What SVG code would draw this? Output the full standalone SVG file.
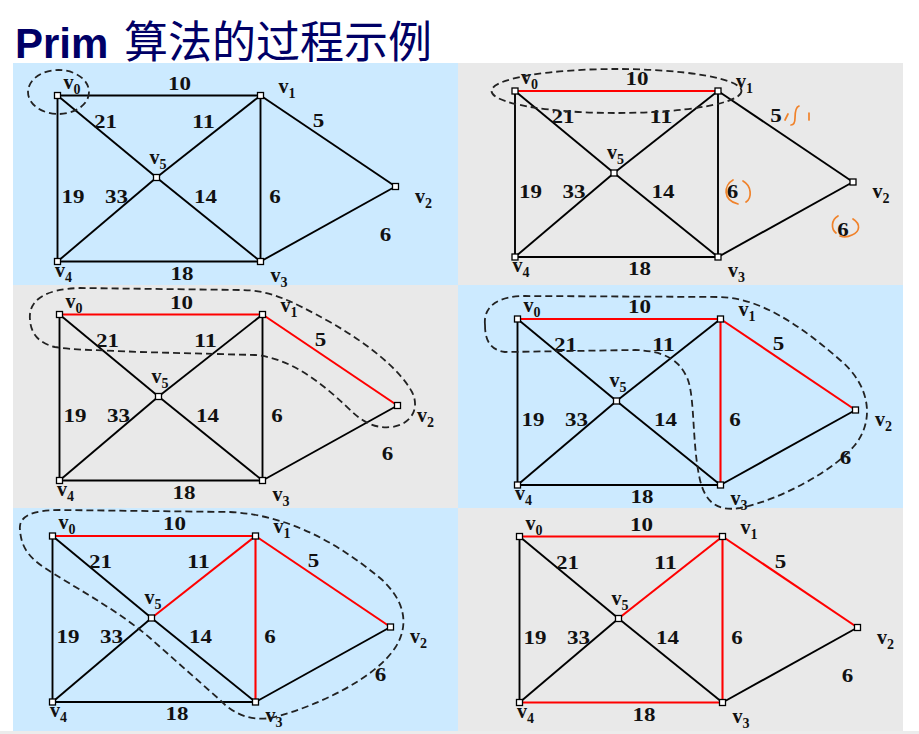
<svg xmlns="http://www.w3.org/2000/svg" width="919" height="734" viewBox="0 0 919 734">
<style>
.bb{fill:#cceaff}
.bg{fill:#e9e9e9}
.e{stroke:#000;stroke-width:1.9;fill:none}
.r{stroke:#ff0000;stroke-width:2.1;fill:none}
.n rect{fill:#fff;stroke:#000;stroke-width:1.3}
.w{font-family:"Liberation Serif","Times New Roman",serif;font-weight:bold;font-size:19px;text-anchor:middle;fill:#111}
.vl{font-family:"Liberation Serif","Times New Roman",serif;font-weight:bold;font-size:20px;fill:#111}
.vl tspan{font-size:14px}
.d{stroke:#222;stroke-width:1.8;stroke-dasharray:7 4;fill:none}
.o{stroke:#f0822a;stroke-width:1.7;fill:none;stroke-linecap:round}
.t{fill:#000066}
</style>
<rect width="919" height="734" fill="#fff"/>
<g id="backgrounds">
<rect class="bb" x="13" y="63" width="445" height="222"/>
<rect class="bg" x="458" y="63" width="445" height="222"/>
<rect class="bg" x="13" y="285" width="445" height="223"/>
<rect class="bb" x="458" y="285" width="445" height="223"/>
<rect class="bb" x="13" y="508" width="445" height="223"/>
<rect class="bg" x="458" y="508" width="445" height="223"/>
<rect x="0" y="731" width="919" height="3" fill="#ececec"/>
</g>
<text id="title" class="t" y="58"><tspan x="15" font-family="'Liberation Sans',Arial,sans-serif" font-weight="bold" font-size="42">Prim</tspan><tspan x="124" font-family="'Noto Sans CJK SC',sans-serif" font-size="44">算法的过程示例</tspan></text>

<!-- Panel 1 -->
<g id="panel1" transform="translate(57.5,95.5)">
<g id="p1-edges">
<path class="e" d="M0,0L203,0"/><path class="e" d="M0,0L0,166"/><path class="e" d="M0,0L99,82"/><path class="e" d="M203,0L99,82"/><path class="e" d="M203,0L338,91"/><path class="e" d="M203,0L203,166"/><path class="e" d="M99,82L0,166"/><path class="e" d="M99,82L203,166"/><path class="e" d="M338,91L203,166"/><path class="e" d="M0,166L203,166"/>
</g>
<g id="p1-weights">
<text class="w" x="122" y="-6" textLength="23" lengthAdjust="spacingAndGlyphs">10</text>
<text class="w" x="48" y="32" textLength="23" lengthAdjust="spacingAndGlyphs">21</text>
<text class="w" x="146" y="32" textLength="23" lengthAdjust="spacingAndGlyphs">11</text>
<text class="w" x="261" y="31" textLength="11.5" lengthAdjust="spacingAndGlyphs">5</text>
<text class="w" x="15.5" y="107" textLength="23" lengthAdjust="spacingAndGlyphs">19</text>
<text class="w" x="59" y="107" textLength="23" lengthAdjust="spacingAndGlyphs">33</text>
<text class="w" x="148" y="107" textLength="23" lengthAdjust="spacingAndGlyphs">14</text>
<text class="w" x="217.5" y="107" textLength="11.5" lengthAdjust="spacingAndGlyphs">6</text>
<text class="w" x="328" y="145" textLength="11.5" lengthAdjust="spacingAndGlyphs">6</text>
<text class="w" x="124.5" y="184" textLength="23" lengthAdjust="spacingAndGlyphs">18</text>
</g>
<g id="p1-v0" class="n"><rect x="-3" y="-3" width="6" height="6"/><text class="vl" x="6" y="-7">v<tspan dy="5">0</tspan></text></g>
<g id="p1-v1" class="n"><rect x="200" y="-3" width="6" height="6"/><text class="vl" x="221" y="-3">v<tspan dy="5">1</tspan></text></g>
<g id="p1-v5" class="n"><rect x="96" y="79" width="6" height="6"/><text class="vl" x="92" y="68">v<tspan dy="5">5</tspan></text></g>
<g id="p1-v2" class="n"><rect x="335" y="88" width="6" height="6"/><text class="vl" x="357.5" y="107">v<tspan dy="5">2</tspan></text></g>
<g id="p1-v4" class="n"><rect x="-3" y="163" width="6" height="6"/><text class="vl" x="-2.5" y="181">v<tspan dy="5">4</tspan></text></g>
<g id="p1-v3" class="n"><rect x="200" y="163" width="6" height="6"/><text class="vl" x="213" y="186">v<tspan dy="5">3</tspan></text></g>
</g>

<!-- Panel 2 -->
<g id="panel2" transform="translate(515,91)">
<g id="p2-edges">
<path class="r" d="M0,0L203,0"/><path class="e" d="M0,0L0,166"/><path class="e" d="M0,0L99,82"/><path class="e" d="M203,0L99,82"/><path class="e" d="M203,0L338,91"/><path class="e" d="M203,0L203,166"/><path class="e" d="M99,82L0,166"/><path class="e" d="M99,82L203,166"/><path class="e" d="M338,91L203,166"/><path class="e" d="M0,166L203,166"/>
</g>
<g id="p2-weights">
<text class="w" x="122" y="-6" textLength="23" lengthAdjust="spacingAndGlyphs">10</text>
<text class="w" x="48" y="32" textLength="23" lengthAdjust="spacingAndGlyphs">21</text>
<text class="w" x="146" y="32" textLength="23" lengthAdjust="spacingAndGlyphs">11</text>
<text class="w" x="261" y="31" textLength="11.5" lengthAdjust="spacingAndGlyphs">5</text>
<text class="w" x="15.5" y="107" textLength="23" lengthAdjust="spacingAndGlyphs">19</text>
<text class="w" x="59" y="107" textLength="23" lengthAdjust="spacingAndGlyphs">33</text>
<text class="w" x="148" y="107" textLength="23" lengthAdjust="spacingAndGlyphs">14</text>
<text class="w" x="217.5" y="107" textLength="11.5" lengthAdjust="spacingAndGlyphs">6</text>
<text class="w" x="328" y="145" textLength="11.5" lengthAdjust="spacingAndGlyphs">6</text>
<text class="w" x="124.5" y="184" textLength="23" lengthAdjust="spacingAndGlyphs">18</text>
</g>
<g id="p2-v0" class="n"><rect x="-3" y="-3" width="6" height="6"/><text class="vl" x="6" y="-7">v<tspan dy="5">0</tspan></text></g>
<g id="p2-v1" class="n"><rect x="200" y="-3" width="6" height="6"/><text class="vl" x="221" y="-3">v<tspan dy="5">1</tspan></text></g>
<g id="p2-v5" class="n"><rect x="96" y="79" width="6" height="6"/><text class="vl" x="92" y="68">v<tspan dy="5">5</tspan></text></g>
<g id="p2-v2" class="n"><rect x="335" y="88" width="6" height="6"/><text class="vl" x="357.5" y="107">v<tspan dy="5">2</tspan></text></g>
<g id="p2-v4" class="n"><rect x="-3" y="163" width="6" height="6"/><text class="vl" x="-2.5" y="181">v<tspan dy="5">4</tspan></text></g>
<g id="p2-v3" class="n"><rect x="200" y="163" width="6" height="6"/><text class="vl" x="213" y="186">v<tspan dy="5">3</tspan></text></g>
</g>

<!-- Panel 3 -->
<g id="panel3" transform="translate(59.5,314.5)">
<g id="p3-edges">
<path class="r" d="M0,0L203,0"/><path class="e" d="M0,0L0,166"/><path class="e" d="M0,0L99,82"/><path class="e" d="M203,0L99,82"/><path class="r" d="M203,0L338,91"/><path class="e" d="M203,0L203,166"/><path class="e" d="M99,82L0,166"/><path class="e" d="M99,82L203,166"/><path class="e" d="M338,91L203,166"/><path class="e" d="M0,166L203,166"/>
</g>
<g id="p3-weights">
<text class="w" x="122" y="-6" textLength="23" lengthAdjust="spacingAndGlyphs">10</text>
<text class="w" x="48" y="32" textLength="23" lengthAdjust="spacingAndGlyphs">21</text>
<text class="w" x="146" y="32" textLength="23" lengthAdjust="spacingAndGlyphs">11</text>
<text class="w" x="261" y="31" textLength="11.5" lengthAdjust="spacingAndGlyphs">5</text>
<text class="w" x="15.5" y="107" textLength="23" lengthAdjust="spacingAndGlyphs">19</text>
<text class="w" x="59" y="107" textLength="23" lengthAdjust="spacingAndGlyphs">33</text>
<text class="w" x="148" y="107" textLength="23" lengthAdjust="spacingAndGlyphs">14</text>
<text class="w" x="217.5" y="107" textLength="11.5" lengthAdjust="spacingAndGlyphs">6</text>
<text class="w" x="328" y="145" textLength="11.5" lengthAdjust="spacingAndGlyphs">6</text>
<text class="w" x="124.5" y="184" textLength="23" lengthAdjust="spacingAndGlyphs">18</text>
</g>
<g id="p3-v0" class="n"><rect x="-3" y="-3" width="6" height="6"/><text class="vl" x="6" y="-7">v<tspan dy="5">0</tspan></text></g>
<g id="p3-v1" class="n"><rect x="200" y="-3" width="6" height="6"/><text class="vl" x="221" y="-3">v<tspan dy="5">1</tspan></text></g>
<g id="p3-v5" class="n"><rect x="96" y="79" width="6" height="6"/><text class="vl" x="92" y="68">v<tspan dy="5">5</tspan></text></g>
<g id="p3-v2" class="n"><rect x="335" y="88" width="6" height="6"/><text class="vl" x="357.5" y="107">v<tspan dy="5">2</tspan></text></g>
<g id="p3-v4" class="n"><rect x="-3" y="163" width="6" height="6"/><text class="vl" x="-2.5" y="181">v<tspan dy="5">4</tspan></text></g>
<g id="p3-v3" class="n"><rect x="200" y="163" width="6" height="6"/><text class="vl" x="213" y="186">v<tspan dy="5">3</tspan></text></g>
</g>

<!-- Panel 4 -->
<g id="panel4" transform="translate(517.5,319)">
<g id="p4-edges">
<path class="r" d="M0,0L203,0"/><path class="e" d="M0,0L0,166"/><path class="e" d="M0,0L99,82"/><path class="e" d="M203,0L99,82"/><path class="r" d="M203,0L338,91"/><path class="r" d="M203,0L203,166"/><path class="e" d="M99,82L0,166"/><path class="e" d="M99,82L203,166"/><path class="e" d="M338,91L203,166"/><path class="e" d="M0,166L203,166"/>
</g>
<g id="p4-weights">
<text class="w" x="122" y="-6" textLength="23" lengthAdjust="spacingAndGlyphs">10</text>
<text class="w" x="48" y="32" textLength="23" lengthAdjust="spacingAndGlyphs">21</text>
<text class="w" x="146" y="32" textLength="23" lengthAdjust="spacingAndGlyphs">11</text>
<text class="w" x="261" y="31" textLength="11.5" lengthAdjust="spacingAndGlyphs">5</text>
<text class="w" x="15.5" y="107" textLength="23" lengthAdjust="spacingAndGlyphs">19</text>
<text class="w" x="59" y="107" textLength="23" lengthAdjust="spacingAndGlyphs">33</text>
<text class="w" x="148" y="107" textLength="23" lengthAdjust="spacingAndGlyphs">14</text>
<text class="w" x="217.5" y="107" textLength="11.5" lengthAdjust="spacingAndGlyphs">6</text>
<text class="w" x="328" y="145" textLength="11.5" lengthAdjust="spacingAndGlyphs">6</text>
<text class="w" x="124.5" y="184" textLength="23" lengthAdjust="spacingAndGlyphs">18</text>
</g>
<g id="p4-v0" class="n"><rect x="-3" y="-3" width="6" height="6"/><text class="vl" x="6" y="-7">v<tspan dy="5">0</tspan></text></g>
<g id="p4-v1" class="n"><rect x="200" y="-3" width="6" height="6"/><text class="vl" x="221" y="-3">v<tspan dy="5">1</tspan></text></g>
<g id="p4-v5" class="n"><rect x="96" y="79" width="6" height="6"/><text class="vl" x="92" y="68">v<tspan dy="5">5</tspan></text></g>
<g id="p4-v2" class="n"><rect x="335" y="88" width="6" height="6"/><text class="vl" x="357.5" y="107">v<tspan dy="5">2</tspan></text></g>
<g id="p4-v4" class="n"><rect x="-3" y="163" width="6" height="6"/><text class="vl" x="-2.5" y="181">v<tspan dy="5">4</tspan></text></g>
<g id="p4-v3" class="n"><rect x="200" y="163" width="6" height="6"/><text class="vl" x="213" y="186">v<tspan dy="5">3</tspan></text></g>
</g>

<!-- Panel 5 -->
<g id="panel5" transform="translate(52.5,536)">
<g id="p5-edges">
<path class="r" d="M0,0L203,0"/><path class="e" d="M0,0L0,166"/><path class="e" d="M0,0L99,82"/><path class="r" d="M203,0L99,82"/><path class="r" d="M203,0L338,91"/><path class="r" d="M203,0L203,166"/><path class="e" d="M99,82L0,166"/><path class="e" d="M99,82L203,166"/><path class="e" d="M338,91L203,166"/><path class="e" d="M0,166L203,166"/>
</g>
<g id="p5-weights">
<text class="w" x="122" y="-6" textLength="23" lengthAdjust="spacingAndGlyphs">10</text>
<text class="w" x="48" y="32" textLength="23" lengthAdjust="spacingAndGlyphs">21</text>
<text class="w" x="146" y="32" textLength="23" lengthAdjust="spacingAndGlyphs">11</text>
<text class="w" x="261" y="31" textLength="11.5" lengthAdjust="spacingAndGlyphs">5</text>
<text class="w" x="15.5" y="107" textLength="23" lengthAdjust="spacingAndGlyphs">19</text>
<text class="w" x="59" y="107" textLength="23" lengthAdjust="spacingAndGlyphs">33</text>
<text class="w" x="148" y="107" textLength="23" lengthAdjust="spacingAndGlyphs">14</text>
<text class="w" x="217.5" y="107" textLength="11.5" lengthAdjust="spacingAndGlyphs">6</text>
<text class="w" x="328" y="145" textLength="11.5" lengthAdjust="spacingAndGlyphs">6</text>
<text class="w" x="124.5" y="184" textLength="23" lengthAdjust="spacingAndGlyphs">18</text>
</g>
<g id="p5-v0" class="n"><rect x="-3" y="-3" width="6" height="6"/><text class="vl" x="6" y="-7">v<tspan dy="5">0</tspan></text></g>
<g id="p5-v1" class="n"><rect x="200" y="-3" width="6" height="6"/><text class="vl" x="221" y="-3">v<tspan dy="5">1</tspan></text></g>
<g id="p5-v5" class="n"><rect x="96" y="79" width="6" height="6"/><text class="vl" x="92" y="68">v<tspan dy="5">5</tspan></text></g>
<g id="p5-v2" class="n"><rect x="335" y="88" width="6" height="6"/><text class="vl" x="357.5" y="107">v<tspan dy="5">2</tspan></text></g>
<g id="p5-v4" class="n"><rect x="-3" y="163" width="6" height="6"/><text class="vl" x="-2.5" y="181">v<tspan dy="5">4</tspan></text></g>
<g id="p5-v3" class="n"><rect x="200" y="163" width="6" height="6"/><text class="vl" x="213" y="186">v<tspan dy="5">3</tspan></text></g>
</g>

<!-- Panel 6 -->
<g id="panel6" transform="translate(519.5,536.5)">
<g id="p6-edges">
<path class="r" d="M0,0L203,0"/><path class="e" d="M0,0L0,166"/><path class="e" d="M0,0L99,82"/><path class="r" d="M203,0L99,82"/><path class="r" d="M203,0L338,91"/><path class="r" d="M203,0L203,166"/><path class="e" d="M99,82L0,166"/><path class="e" d="M99,82L203,166"/><path class="e" d="M338,91L203,166"/><path class="r" d="M0,166L203,166"/>
</g>
<g id="p6-weights">
<text class="w" x="122" y="-6" textLength="23" lengthAdjust="spacingAndGlyphs">10</text>
<text class="w" x="48" y="32" textLength="23" lengthAdjust="spacingAndGlyphs">21</text>
<text class="w" x="146" y="32" textLength="23" lengthAdjust="spacingAndGlyphs">11</text>
<text class="w" x="261" y="31" textLength="11.5" lengthAdjust="spacingAndGlyphs">5</text>
<text class="w" x="15.5" y="107" textLength="23" lengthAdjust="spacingAndGlyphs">19</text>
<text class="w" x="59" y="107" textLength="23" lengthAdjust="spacingAndGlyphs">33</text>
<text class="w" x="148" y="107" textLength="23" lengthAdjust="spacingAndGlyphs">14</text>
<text class="w" x="217.5" y="107" textLength="11.5" lengthAdjust="spacingAndGlyphs">6</text>
<text class="w" x="328" y="145" textLength="11.5" lengthAdjust="spacingAndGlyphs">6</text>
<text class="w" x="124.5" y="184" textLength="23" lengthAdjust="spacingAndGlyphs">18</text>
</g>
<g id="p6-v0" class="n"><rect x="-3" y="-3" width="6" height="6"/><text class="vl" x="6" y="-7">v<tspan dy="5">0</tspan></text></g>
<g id="p6-v1" class="n"><rect x="200" y="-3" width="6" height="6"/><text class="vl" x="221" y="-3">v<tspan dy="5">1</tspan></text></g>
<g id="p6-v5" class="n"><rect x="96" y="79" width="6" height="6"/><text class="vl" x="92" y="68">v<tspan dy="5">5</tspan></text></g>
<g id="p6-v2" class="n"><rect x="335" y="88" width="6" height="6"/><text class="vl" x="357.5" y="107">v<tspan dy="5">2</tspan></text></g>
<g id="p6-v4" class="n"><rect x="-3" y="163" width="6" height="6"/><text class="vl" x="-2.5" y="181">v<tspan dy="5">4</tspan></text></g>
<g id="p6-v3" class="n"><rect x="200" y="163" width="6" height="6"/><text class="vl" x="213" y="186">v<tspan dy="5">3</tspan></text></g>
</g>

<!-- Dashed selection outlines -->
<g id="outlines">
<ellipse class="d" cx="58.5" cy="92" rx="30.5" ry="22"/>
<ellipse class="d" cx="616.5" cy="91" rx="125" ry="22"/>
<path class="d" d="M30,320 C28,300 45,289 80,288 L240,290 C270,290 290,300 330,322 C370,345 400,370 412,392 C420,408 412,424 392,427 C372,429 360,420 345,405 C320,382 290,358 255,355 L140,352 C100,350 70,350 55,347 C38,343 31,333 30,320 Z"/>
<path class="d" d="M485,325 C483,305 500,296 525,296 L720,297 C760,298 800,325 840,360 C870,385 875,420 855,445 C835,470 780,500 740,508 C715,512 705,500 700,480 C692,445 695,400 688,380 C680,360 665,351 635,350 L505,352 C490,350 485,340 485,325 Z"/>
<path class="d" d="M20,530 C18,515 35,510 60,510 L230,512 C290,515 340,545 380,578 C405,600 410,625 395,648 C375,678 320,705 275,717 C255,722 235,716 220,700 L150,638 C115,608 70,585 45,568 C25,555 21,543 20,530 Z"/>
</g>

<!-- Hand-drawn orange annotations -->
<g id="annotations">
<path class="o" d="M733,180 C724,185 722,200 738,204"/>
<path class="o" d="M743,181 C752,186 752,198 746,202"/>
<path class="o" d="M838,216 C831,220 831,229 836,233"/>
<path class="o" d="M853,219 C861,224 860,232 852,235 C848,237 843,237 840,236"/>
<path class="o" d="M788,114 L785,120"/>
<path class="o" d="M799,106 C796,107 795,112 795,118 C795,122 794,125 791,125"/>
<path class="o" d="M809,113 L809,120"/>
</g>
</svg>
